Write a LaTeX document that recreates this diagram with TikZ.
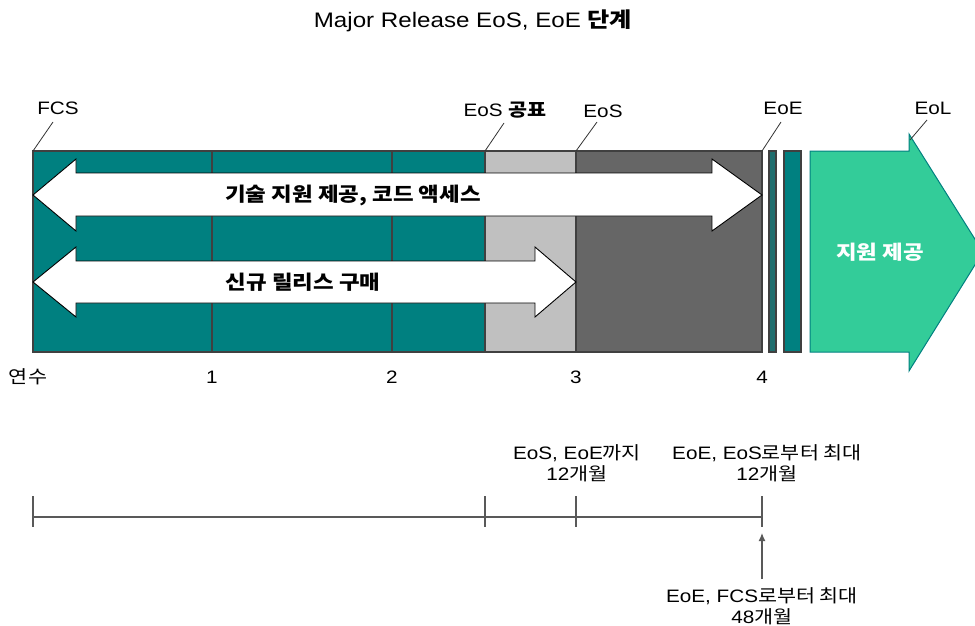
\documentclass[tikz,border=0pt]{standalone}
\usepackage{fontspec}
\setmainfont[FakeStretch=1.15]{Liberation Sans}
\newfontfamily\krfont[FakeStretch=1.15]{Noto Sans CJK KR}
\newcommand{\kr}[1]{{\krfont #1}}
\newcommand{\krb}[1]{{\krfont\bfseries #1}}
\usetikzlibrary{arrows.meta}
\definecolor{barteal}{HTML}{008080}
\definecolor{bardeep}{HTML}{1F6E6E}
\definecolor{barlight}{HTML}{C0C0C0}
\definecolor{bardark}{HTML}{666666}
\definecolor{eolgreen}{HTML}{33CC99}
\tikzset{
      phase/.style={draw=black!75, line width=1.2},
      bigarrow/.style={fill=white, draw=black, line width=0.9},
      leader/.style={draw=black!80, line width=0.8},
      lbl/.style={font=\fontsize{18}{21}\selectfont, inner sep=0},
      biglbl/.style={font=\fontsize{19.5}{22}\selectfont, inner sep=0},
      tline/.style={draw=black!65, line width=1.2},
}

\begin{document}
\begin{tikzpicture}[x=1pt, y=-1pt]

        \useasboundingbox (0,0) rectangle (975,626);

        \node[font=\fontsize{21}{24}\selectfont] (title) at (473,21) {Major Release EoS, EoE \krb{단계}};

        % phases
        \draw[phase, fill=barteal] (33,151) rectangle (212,352);
        \draw[phase, fill=barteal] (212,151) rectangle (392,352);
        \draw[phase, fill=barteal] (392,151) rectangle (485,352);
        \draw[phase, fill=barlight] (485,151) rectangle (576,352);
        \draw[phase, fill=bardark] (576,151) rectangle (762,352);
        \draw[phase, fill=bardeep] (769,151) rectangle (776,352);
        \draw[phase, fill=barteal] (784,151) rectangle (801,352);
        \draw[draw=barteal, line width=1, fill=eolgreen] (810,151) -- (909,151) -- (909,134) -- (983,252)
              -- (909,371) -- (909,352) -- (810,352) -- cycle;

        \draw[bigarrow] (33,195) -- (76,159) -- (76,173) -- (712,173) -- (712,159) -- (762,195)
              -- (712,231) -- (712,216) -- (76,216) -- (76,231) -- cycle;
        \draw[bigarrow] (33,282) -- (76,247) -- (76,261) -- (535,261) -- (535,247) -- (576,282)
              -- (535,317) -- (535,303) -- (76,303) -- (76,317) -- cycle;

        \node[biglbl] (support) at (353,195) {\krb{기술 지원 제공, 코드 액세스}};
        \node[biglbl] (purchase) at (303,282) {\krb{신규 릴리스 구매}};
        \node[biglbl, text=white] (eolsupport) at (880,252) {\krb{지원 제공}};

        % milestones
        \coordinate (fcs) at (33,151);
        \coordinate (fcsend) at (53,122);
        \node[lbl] (fcslbl) at (58,108) {FCS};
        \draw[leader] (fcs) -- (fcsend);

        \coordinate (eosann) at (485,151);
        \coordinate (eosannend) at (504,123);
        \node[lbl] (eosannlbl) at (505,110) {EoS \krb{공표}};
        \draw[leader] (eosann) -- (eosannend);

        \coordinate (eos) at (576,151);
        \coordinate (eosend) at (597,122);
        \node[lbl] (eoslbl) at (603,111) {EoS};
        \draw[leader] (eos) -- (eosend);

        \coordinate (eoe) at (762,151);
        \coordinate (eoeend) at (781,122);
        \node[lbl] (eoelbl) at (783,108) {EoE};
        \draw[leader] (eoe) -- (eoeend);

        \coordinate (eol) at (910,140);
        \coordinate (eolend) at (927,120);
        \node[lbl] (eollbl) at (933,108) {EoL};
        \draw[leader] (eol) -- (eolend);

        % years
        \node[lbl] (years) at (28,377) {\kr{연수}};
        \node[lbl] (yr1) at (212,377) {1};
        \node[lbl] (yr2) at (392,377) {2};
        \node[lbl] (yr3) at (576,377) {3};
        \node[lbl] (yr4) at (762,377) {4};

        % timeline
        \coordinate (t0) at (33,517);
        \coordinate (t1) at (485,517);
        \coordinate (t2) at (576,517);
        \coordinate (t3) at (762,517);
        \draw[tline] (t0) -- (t3);
        \draw[tline] (t0) ++(0,-21) -- ++(0,31);
        \draw[tline] (t1) ++(0,-21) -- ++(0,31);
        \draw[tline] (t2) ++(0,-21) -- ++(0,31);
        \draw[tline] (t3) ++(0,-21) -- ++(0,31);

        \node[lbl, align=center] (tilleoe) at (577,463) {EoS, EoE\kr{까지}\\12\kr{개월}};
        \node[lbl, align=center] (fromeos) at (767,463) {EoE, EoS\kr{로부터 최대}\\12\kr{개월}};
        \node[lbl, align=center] (fromfcs) at (762,606) {EoE, FCS\kr{로부터 최대}\\48\kr{개월}};

        \coordinate (upto) at (762,533);
        \draw[tline, -{Latex[length=8, width=7]}] (fromfcs.north) ++(0,-8) -- (upto);

\end{tikzpicture}
\end{document}
